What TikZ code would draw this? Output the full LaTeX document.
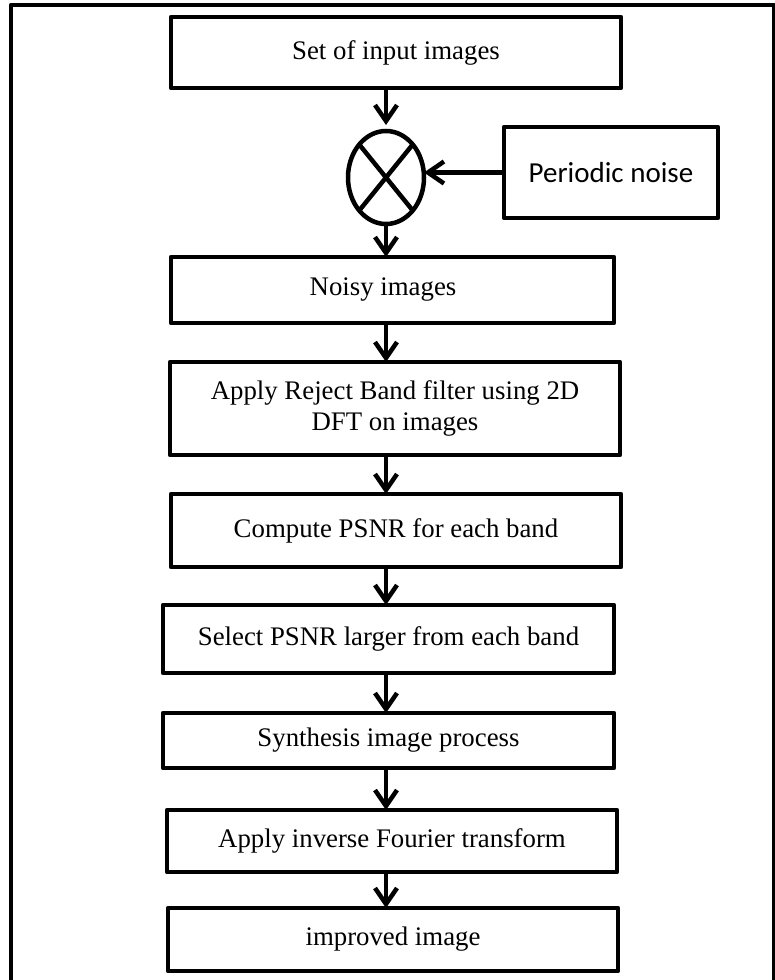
\documentclass[tikz,border=0pt]{standalone}
\usepackage{fontspec}
\setmainfont{Liberation Serif}
\newfontfamily\calib{Carlito}
\usetikzlibrary{arrows.meta,shapes.geometric}
\begin{document}
\begin{tikzpicture}[x=1pt,y=-1pt,
  stepbox/.style={draw,line width=4.5pt,line join=round,rectangle,inner sep=0pt,outer sep=0pt,
    font=\fontsize{26.8}{31}\selectfont,align=center},
  arr/.style={line width=4.5pt,-{Straight Barb[length=16pt,width=22pt]}},
]
\useasboundingbox (0,0) rectangle (775,980);
\begin{scope}
\clip (0,0) rectangle (775,980);
\draw[line width=4.5pt,line join=round] (11,5) rectangle (774,1000);
\end{scope}
\node[stepbox,minimum width=450pt,minimum height=71pt] (in) at (396,52.5) {Set of input images};
\node[draw,ellipse,line width=4.5pt,minimum width=76pt,minimum height=93pt,inner sep=0pt,outer sep=0pt] (mix) at (386,177.5) {};
\draw[line width=4.5pt] (mix.129) -- (mix.-51) (mix.51) -- (mix.-129);
\node[draw,line width=4.5pt,line join=round,minimum width=214pt,minimum height=91pt,inner sep=0pt,outer sep=0pt,
  font=\calib\fontsize{29}{34}\selectfont] (noise) at (611,172.5) {Periodic noise};
\node[stepbox,minimum width=443pt,minimum height=66pt] (noisy) at (392.5,290) {Noisy images\kern19pt};
\node[stepbox,minimum width=450pt,minimum height=93pt] (reject) at (395,408.5) {Apply Reject Band filter using 2D\\DFT on images};
\node[stepbox,minimum width=450pt,minimum height=73pt] (psnr) at (396,530.5) {Compute PSNR for each band};
\node[stepbox,minimum width=451pt,minimum height=68pt] (select) at (388.5,639) {Select PSNR larger from each band};
\node[stepbox,minimum width=451pt,minimum height=55pt] (synth) at (388.5,740.5) {Synthesis image process};
\node[stepbox,minimum width=450pt,minimum height=62pt] (inv) at (392,841) {Apply inverse Fourier transform};
\node[stepbox,minimum width=450pt,minimum height=63pt] (out) at (393,939.5) {improved image};
\draw[arr,shorten >=6pt] (in.south -| mix) -- (mix.north);
\draw[arr] (noise.west) -- (noise.west -| mix.east);
\draw[arr] (mix.south) -- (noisy.north -| mix);
\draw[arr] (noisy.south -| mix) -- (reject.north -| mix);
\draw[arr] (reject.south -| mix) -- (psnr.north -| mix);
\draw[arr] (psnr.south -| mix) -- (select.north -| mix);
\draw[arr] (select.south -| mix) -- (synth.north -| mix);
\draw[arr] (synth.south -| mix) -- (inv.north -| mix);
\draw[arr] (inv.south -| mix) -- (out.north -| mix);
\end{tikzpicture}
\end{document}
